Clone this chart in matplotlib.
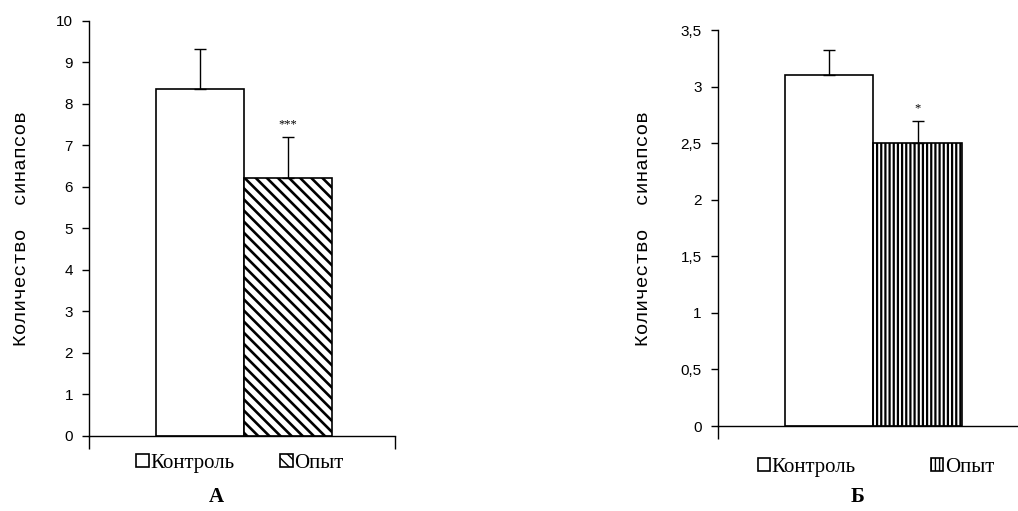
import matplotlib
matplotlib.use("Agg")
import matplotlib.pyplot as plt

# ---- data ----
categories = ["Контроль", "Опыт"]
values_A = [8.35, 6.2]
errors_A = [0.98, 1.0]
values_B = [3.10, 2.50]
errors_B = [0.22, 0.20]
signif_A = "***"
signif_B = "*"
yticks_A = [0, 1, 2, 3, 4, 5, 6, 7, 8, 9, 10]
yticklabels_A = ["0", "1", "2", "3", "4", "5", "6", "7", "8", "9", "10"]
yticks_B = [0, 0.5, 1, 1.5, 2, 2.5, 3, 3.5]
yticklabels_B = ["0", "0,5", "1", "1,5", "2", "2,5", "3", "3,5"]
ylabel = "Количество  синапсов"
panel_labels = ["А", "Б"]

W, H = 1018, 511
fig = plt.figure(figsize=(W / 100, H / 100), dpi=100)

XLIM = (-1.26, 2.22)


def make_panel(rect, values, errors, yticks, yticklabels, ymax, hatch, hlw,
               signif, sig_y, label_x, legend_xy, colsp, panel_label, plab_xy):
    ax = fig.add_axes(rect)
    pos = list(range(len(values)))
    bars = []
    for i, (p, v) in enumerate(zip(pos, values)):
        with plt.rc_context({"hatch.linewidth": hlw}):
            b = ax.bar([p], [v], width=1.0, color="white", edgecolor="black",
                       linewidth=1.2, hatch=(None if i == 0 else hatch),
                       label=categories[i], zorder=2)
        for patch in b.patches:
            if i == 1 and hasattr(patch, "set_hatch_linewidth"):
                patch.set_hatch_linewidth(hlw)
        bars.append(b)
    ax.errorbar(pos, values, yerr=[[0] * len(values), errors], fmt="none",
                ecolor="black", elinewidth=1.0, capsize=4.3, capthick=1.0,
                zorder=3)
    ax.text(pos[1], sig_y, signif, ha="center", va="center", fontsize=9,
            family="Liberation Serif", color="black")
    ax.set_xlim(*XLIM)
    ax.set_ylim(0, ymax)
    for s in ["top", "right"]:
        ax.spines[s].set_visible(False)
    ax.spines["left"].set_linewidth(1.0)
    ax.spines["bottom"].set_linewidth(1.0)
    ax.spines["left"].set_bounds(0, ymax)
    ax.set_yticks(yticks)
    ax.set_yticklabels(yticklabels, family="Liberation Sans", fontsize=11)
    ax.tick_params(axis="y", direction="out", length=5, width=1.0, pad=6.5,
                   colors="black")
    ax.set_xticks([XLIM[0], XLIM[1]])
    ax.set_xticklabels([])
    ax.tick_params(axis="x", direction="out", length=9, width=1.0)
    ax.set_ylabel(ylabel, family="Liberation Mono", fontsize=14)
    ax.yaxis.set_label_coords(label_x, 0.5)
    ax.patch.set_alpha(0)
    fig.legend(handles=[bars[0], bars[1]], labels=categories,
               loc="center", bbox_to_anchor=legend_xy, ncol=2,
               frameon=False, handlelength=0.6, handleheight=0.6,
               handletextpad=0.08, columnspacing=colsp,
               prop={"family": "Liberation Serif", "size": 15})
    fig.text(plab_xy[0], plab_xy[1], panel_label, ha="center", va="center",
             family="Liberation Serif", fontweight="bold", fontsize=15)
    return ax


# panel A
make_panel([89 / W, (H - 435.7) / H, 306 / W, 415 / H],
           values_A, errors_A, yticks_A, yticklabels_A, 10, "\\\\\\", 1.9,
           signif_A, 7.5, -0.193, (240 / W, (H - 463) / H), 2.2,
           panel_labels[0], (216 / W, (H - 497) / H))

# panel B
make_panel([717.7 / W, (H - 426) / H, 308 / W, 395.9 / H],
           values_B, errors_B, yticks_B, yticklabels_B, 3.5, "||||", 1.6,
           signif_B, 2.81, -0.213, (876 / W, (H - 467) / H), 3.6,
           panel_labels[1], (858 / W, (H - 497) / H))

fig.savefig("out.png", dpi=100, facecolor="white")
